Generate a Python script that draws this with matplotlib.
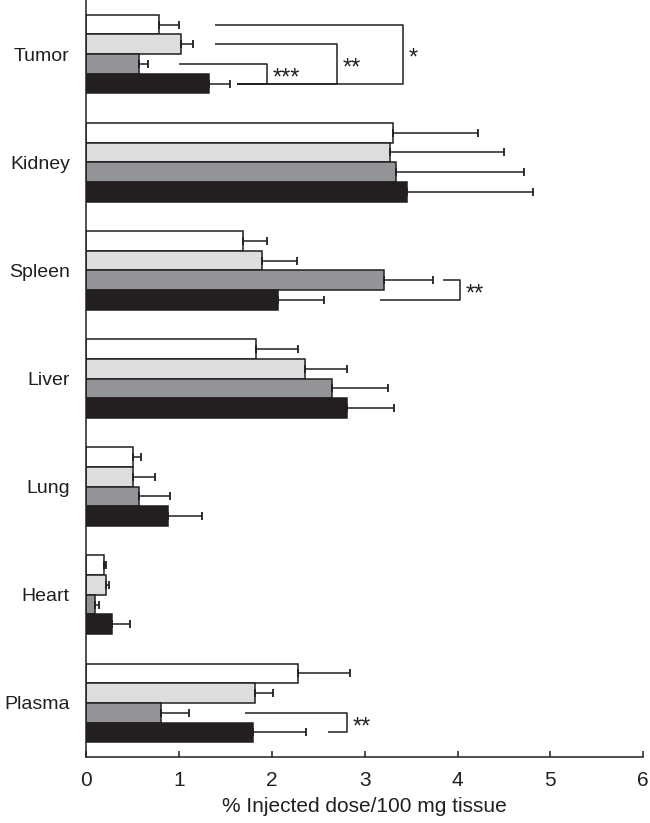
import matplotlib
matplotlib.use('Agg')
import matplotlib.pyplot as plt
import numpy as np

plt.rcParams['font.family'] = ['Liberation Sans', 'DejaVu Sans']

organs = ['Tumor', 'Kidney', 'Spleen', 'Liver', 'Lung', 'Heart', 'Plasma']

# mean values (% ID / 100 mg) for the four groups
white = [0.78, 3.30, 1.69, 1.83, 0.50, 0.19, 2.28]
light = [1.02, 3.27, 1.89, 2.36, 0.50, 0.21, 1.82]
gray = [0.57, 3.34, 3.21, 2.65, 0.57, 0.09, 0.80]
black = [1.32, 3.46, 2.06, 2.81, 0.88, 0.27, 1.79]

# standard deviations (only the upper side is drawn)
white_sd = [0.22, 0.92, 0.26, 0.45, 0.09, 0.02, 0.56]
light_sd = [0.13, 1.23, 0.38, 0.45, 0.24, 0.03, 0.19]
gray_sd = [0.09, 1.38, 0.53, 0.60, 0.33, 0.04, 0.30]
black_sd = [0.23, 1.35, 0.50, 0.50, 0.37, 0.20, 0.58]

series = [white, light, gray, black]
sds = [white_sd, light_sd, gray_sd, black_sd]
colors = ['#ffffff', '#dcdddf', '#939497', '#231f20']

# significance brackets: organ index, bar a, bar b, x start a, x start b, x of bracket, label
brackets = [
    (0, 2, 3, 1.00, 1.62, 1.95, '***'),
    (0, 1, 3, 1.39, 1.62, 2.70, '**'),
    (0, 0, 3, 1.39, 1.62, 3.41, '*'),
    (2, 2, 3, 3.84, 3.16, 4.03, '**'),
    (6, 2, 3, 1.71, 2.60, 2.81, '**'),
]

stride = 5.5
top = 0.75

fig = plt.figure(figsize=(6.5, 8.23), dpi=100)
ax = fig.add_axes([86.5 / 650, 66 / 823, (643 - 86.5) / 650, 757 / 823])

ec = '#231f20'
for i in range(4):
    ys = [top + stride * g + i + 0.5 for g in range(len(organs))]
    xerr = [np.zeros(len(organs)), sds[i]]
    ax.barh(ys, series[i], height=1.0, color=colors[i], edgecolor=ec,
            linewidth=1.1, xerr=xerr,
            error_kw=dict(ecolor=ec, elinewidth=1.1, capsize=3.2, capthick=1.3),
            zorder=2)

for g, a, b, xa, xb, xr, lab in brackets:
    ya = top + stride * g + a + 0.5
    yb = top + stride * g + b + 0.5
    ax.plot([xa, xr, xr, xb], [ya, ya, yb, yb], color=ec, lw=1.1,
            solid_capstyle='butt', zorder=3)
    ax.text(xr + 0.06, (ya + yb) / 2 + 0.25, lab, fontsize=17,
            ha='left', va='center', color=ec)

ax.set_xlim(0, 6)
ax.set_ylim(top * 2 + stride * 6 + 4, 0)
ax.set_xticks(range(7))
ax.set_yticks([top + stride * g + 2 for g in range(len(organs))])
ax.set_yticklabels(organs)

ax.spines['top'].set_visible(False)
ax.spines['right'].set_visible(False)
for s in ['left', 'bottom']:
    ax.spines[s].set_linewidth(1.1)
    ax.spines[s].set_color(ec)

ax.tick_params(axis='x', direction='in', length=4.5, width=1.1, color=ec,
               labelsize=15, pad=10, labelcolor=ec)
ax.tick_params(axis='y', length=0, labelsize=14, pad=12, labelcolor=ec)
ax.set_xlabel('% Injected dose/100 mg tissue', fontsize=15, color=ec,
              labelpad=5)

fig.savefig('out.png', dpi=100)
